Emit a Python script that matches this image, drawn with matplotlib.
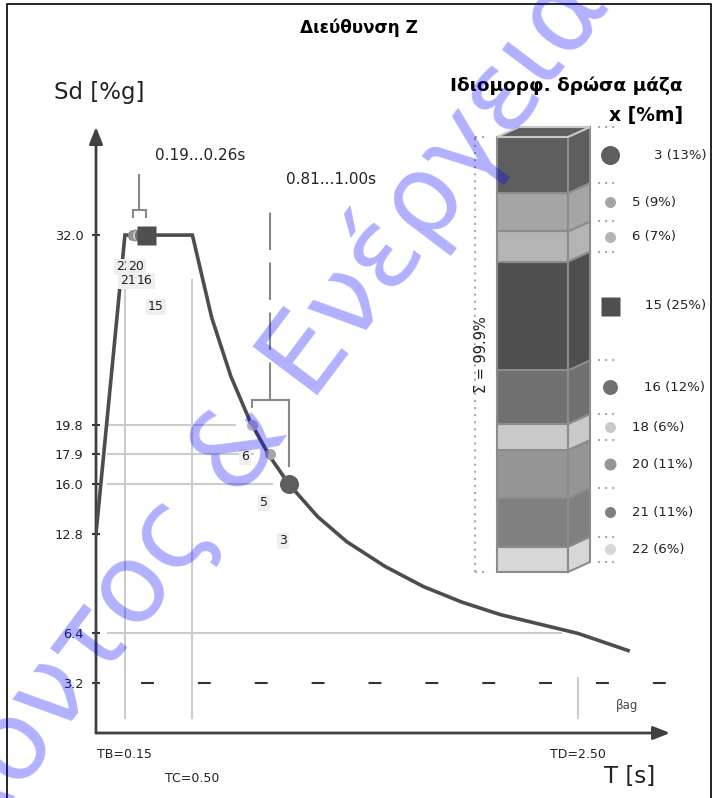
import numpy as np
import matplotlib.pyplot as plt
from matplotlib.patches import Polygon, Rectangle

# ---- spectrum ----
T_curve = [0.0, 0.15, 0.50, 0.60, 0.70, 0.80, 0.90, 1.00, 1.15, 1.30, 1.50,
           1.70, 1.90, 2.10, 2.30, 2.50, 2.76]
Sd_curve = [12.8, 32.0, 32.0, 26.7, 22.9, 20.0, 17.8, 16.0, 13.9, 12.3, 10.7,
            9.4, 8.4, 7.6, 7.0, 6.4, 5.3]
y_ticks = [3.2, 6.4, 12.8, 16.0, 17.9, 19.8, 32.0]
TB, TC, TD = 0.15, 0.50, 2.50
Sd_TD = 6.4
beta_ag = 3.2

# ---- modes ----
modes = ['3', '5', '6', '15', '16', '18', '20', '21', '22']
mass = [12.9, 8.8, 6.9, 25.0, 12.3, 6.0, 11.0, 11.2, 5.8]
period = [1.00, 0.90, 0.81, 0.26, 0.24, 0.22, 0.20, 0.19, 0.19]
Sd_mode = [16.0, 17.9, 19.8, 32.0, 32.0, 32.0, 32.0, 32.0, 32.0]
colors = ['#5e5e5e', '#a5a5a5', '#b4b4b4', '#4f4f4f', '#707070',
          '#c9c9c9', '#959595', '#808080', '#d7d7d7']
groups = [(0.19, 0.26), (0.81, 1.00)]
group_txt = ['0.19...0.26s', '0.81...1.00s']

# ---- layout (pixels of the 718x798 picture) ----
W, H = 718, 798
x0_px, kx = 96, 192.8      # T=0 position, px per second
y0_px, ky = 733, 15.56     # Sd=0 position, px per %g
marker_px = [19, 11, 11, 19, 15, 11, 12, 11, 11]
label_px = [(283, 541), (264, 503), (245, 457), (156, 307), (145, 281),
            (145, 281), (136, 267), (128, 281), (124, 267)]
label_order = ['22', '21', '18', '20', '16', '15', '6', '5', '3']
legend_x = [654, 632, 632, 645, 644, 632, 632, 632, 632]
stem_top_px = [175, 200]
group_txt_px = [(200, 156), (331, 180)]


def pT(x):
    return (x - x0_px) / kx


def pS(y):
    return (y0_px - y) / ky


fig = plt.figure(figsize=(W / 100, H / 100), dpi=100)

# ---------------- main spectrum axes ----------------
xmax, ymax = 3.2, 40.0
ax = fig.add_axes([x0_px / W, (H - y0_px) / H, xmax * kx / W, ymax * ky / H])
ax.set_xlim(0, xmax)
ax.set_ylim(0, ymax)
ax.patch.set_visible(False)
for s in ax.spines.values():
    s.set_visible(False)
ax.set_xticks([])
ax.set_yticks(y_ticks)
ax.set_yticklabels(['%.1f' % v for v in y_ticks])
ax.tick_params(axis='y', direction='inout', length=6, width=1.5, color='#333333',
               labelsize=9.3, labelcolor='#222222', pad=6)

axis_c = '#404040'
ax.annotate('', xy=(0, pS(127)), xytext=(0, 0), annotation_clip=False,
            arrowprops=dict(arrowstyle='-|>,head_length=0.5,head_width=0.2',
                            color=axis_c, lw=2, shrinkA=0, shrinkB=0,
                            mutation_scale=20))
ax.annotate('', xy=(pT(670), 0), xytext=(0, 0), annotation_clip=False,
            arrowprops=dict(arrowstyle='-|>,head_length=0.5,head_width=0.2',
                            color=axis_c, lw=2, shrinkA=0, shrinkB=0,
                            mutation_scale=20))

grid_c = '#cccccc'
# vertical guides
for t, top in [(TB, 280), (TC, 280), (TD, 678)]:
    ax.plot([t, t], [pS(718), pS(top)], color=grid_c, lw=1.5, zorder=1)
# horizontal guides up to the points
for t, s in [(period[2], Sd_mode[2]), (period[1], Sd_mode[1]),
             (period[0], Sd_mode[0]), (TD, Sd_TD)]:
    ax.plot([pT(108), t - 17 / kx], [s, s], color=grid_c, lw=1.5, zorder=1)

# beta*ag dashed line
ax.plot([pT(141), pT(667)], [beta_ag, beta_ag], color='#333333', lw=1.5,
        dashes=(6.2, 21.1), zorder=2)
ax.text(pT(627), pS(705), 'βag', fontsize=8.5, color='#444444',
        ha='center', va='center')

# spectrum curve
ax.plot(T_curve, Sd_curve, color='#4d4d4d', lw=2.6, zorder=3,
        solid_joinstyle='miter')

# mode markers
for i in reversed(range(len(modes))):
    mk = 's' if modes[i] == '15' else 'o'
    ax.plot(period[i], Sd_mode[i], marker=mk, ms=marker_px[i] * 0.72,
            color=colors[i], mec='none', zorder=5 + (mk == 's'), clip_on=False)

# mode labels
for z, m in enumerate(label_order):
    i = modes.index(m)
    lx, ly = label_px[i]
    ax.text(pT(lx), pS(ly), m, fontsize=9, color='#222222', ha='center',
            va='center', zorder=7 + z * 0.01,
            bbox=dict(boxstyle='square,pad=0.15', fc='#efefef', ec='none'))

# brackets
br_c = '#888888'
for g, (ta, tb) in enumerate(groups):
    sa = Sd_mode[period.index(ta)]
    sb = Sd_mode[period.index(tb)]
    ybr = pS(y0_px - max(sa, sb) * ky - 25)
    tm = (ta + tb) / 2
    ls = '-' if g == 0 else (0, (18, 6))
    ax.plot([tm, tm], [ybr, pS(stem_top_px[g])], color=br_c, lw=1.5, ls=ls)
    ax.plot([ta, ta, tb, tb], [sa + 18 / ky, ybr, ybr, sb + 18 / ky],
            color=br_c, lw=1.5, solid_joinstyle='miter')
    tx, ty = group_txt_px[g]
    ax.text(pT(tx), pS(ty), group_txt[g], fontsize=11, color='#222222',
            ha='center', va='center')

# period labels
ax.text(TB, pS(754), 'TB=%.2f' % TB, fontsize=9, ha='center', va='center', color='#222222')
ax.text(TC, pS(778), 'TC=%.2f' % TC, fontsize=9, ha='center', va='center', color='#222222')
ax.text(TD, pS(754), 'TD=%.2f' % TD, fontsize=9, ha='center', va='center', color='#222222')

# ---------------- modal mass column ----------------
total = sum(mass)
bar_top, bar_bot = 137, 572
k = (bar_bot - bar_top) / total
bx = fig.add_axes([0, 0, 1, 1])
bx.set_xlim(0, W)
bx.set_ylim((bar_bot - H) / k, bar_bot / k)
bx.axis('off')
bx.patch.set_visible(False)

fx0, fx1, ddx = 497, 568, 22
d = 10 / k
edge = '#8c8c8c'
order = list(reversed(range(len(modes))))  # bottom -> top
cum = 0.0
bounds = [0.0]
mids = {}
for i in order:
    y0, y1 = cum, cum + mass[i]
    bx.add_patch(Rectangle((fx0, y0), fx1 - fx0, mass[i], fc=colors[i],
                           ec=edge, lw=1.5, zorder=2))
    bx.add_patch(Polygon([(fx1, y0), (fx1 + ddx, y0 + d), (fx1 + ddx, y1 + d),
                          (fx1, y1)], closed=True, fc=colors[i], ec=edge,
                         lw=1.5, zorder=2))
    mids[i] = (y0 + y1) / 2
    cum = y1
    bounds.append(cum)
bx.add_patch(Polygon([(fx0, total), (fx0 + ddx, total + d), (fx1 + ddx, total + d),
                      (fx1, total)], closed=True, fc=colors[0], ec='#c8c8c8',
                     lw=1.5, zorder=3))

dot = dict(color='#aaaaaa', lw=1.5, dashes=(1, 2.4))
for b in bounds:
    bx.plot([598, 617], [b + d, b + d], **dot)
bx.plot([475, 475], [0, total], **dot)
bx.plot([475, 485], [0, 0], **dot)
bx.plot([475, 485], [total, total], **dot)
bx.text(481, total / 2, 'Σ = %.1f%%' % total, rotation=90, fontsize=10.5,
        ha='center', va='center', color='#222222')

for i in range(len(modes)):
    mk = 's' if modes[i] == '15' else 'o'
    bx.plot(610, mids[i] + d, marker=mk, ms=marker_px[i] * 0.72,
            color=colors[i], mec='none')
    bx.text(legend_x[i], mids[i] + d, '%s (%d%%)' % (modes[i], round(mass[i])),
            fontsize=9.5, ha='left', va='center', color='#222222')

# ---------------- texts & frame ----------------
fig.text(359 / W, 1 - 28 / H, 'Διεύθυνση Z', ha='center', va='center',
         fontsize=12.2, fontweight='bold')
fig.text(99 / W, 1 - 92 / H, 'Sd [%g]', ha='center', va='center',
         fontsize=16.5, color='#222222')
fig.text(630 / W, 1 - 777 / H, 'T [s]', ha='center', va='center',
         fontsize=16.5, color='#222222')
fig.text(683 / W, 1 - 86 / H, 'Ιδιομορφ. δρώσα μάζα', ha='right', va='center',
         fontsize=13.3, fontweight='bold')
fig.text(683 / W, 1 - 115 / H, 'x [%m]', ha='right', va='center',
         fontsize=13.5, fontweight='bold')

fig.add_artist(Rectangle((7 / W, -0.1), (711 - 7) / W, 1 - 4 / H + 0.1,
                         transform=fig.transFigure, fill=False, ec='black', lw=1.2))

fig.text(612 / W, 1 - 4 / H, 'Περιβάλλοντος & Ενέργεια', rotation=53,
         rotation_mode='anchor', ha='right', va='baseline', fontsize=80,
         color=(0, 0, 1, 0.31), zorder=20)

fig.savefig('out.png', dpi=100)
